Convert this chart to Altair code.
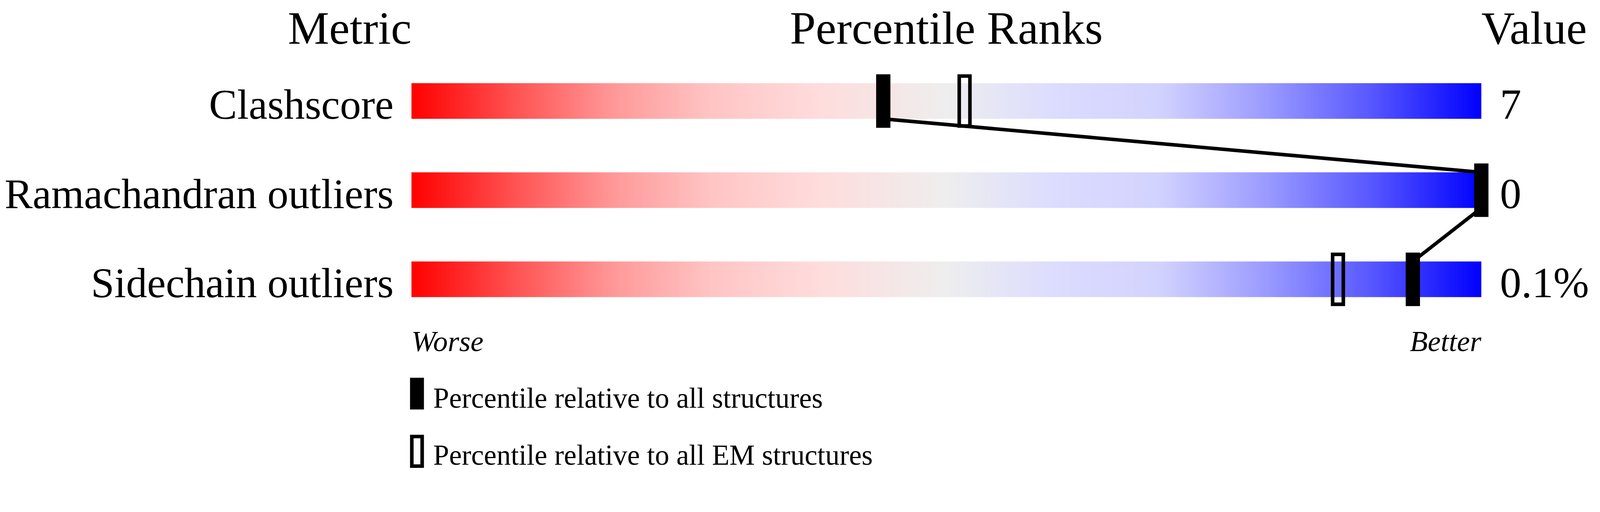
import altair as alt
import pandas as pd

# ---- data ----
metrics = ["Clashscore", "Ramachandran outliers", "Sidechain outliers"]
values = ["7", "0", "0.1%"]
pct_all = [44.1, 100.0, 93.6]          # percentile relative to all structures
pct_em = [51.7, None, 86.6]            # percentile relative to all EM structures
bar_start = [0, 0, 0]
bar_end = [100, 100, 100]
headers = ["Metric", "Percentile Ranks", "Value"]
header_pct = [0, 50, 100]
scale_ends = ["Worse", "Better"]
scale_end_pct = [0, 100]
legend_labels = ["Percentile relative to all structures",
                 "Percentile relative to all EM structures"]

# gradient colours along the slider (offset, colour)
grad_offsets = [0.0, 0.1, 0.19, 0.28, 0.38, 0.5, 0.6, 0.7, 0.8, 0.9, 1.0]
grad_colors = ["#ff0000", "#ff5555", "#ff9999", "#ffc4c4", "#ffdcdc", "#eeeeee",
               "#dcdcff", "#d2d2ff", "#9a9aff", "#5555ff", "#0000ff"]

# ---- layout ----
W, H = 4469, 1250
TOP = 71          # vertical offset between page coordinates and view coordinates
FONT = "Liberation Serif"
x_scale = alt.Scale(domain=[-1145 / 30, (W - 1145) / 30], nice=False, zero=False)
y_scale = alt.Scale(type="point", domain=metrics, range=[286 - TOP, 786 - TOP], padding=0)

bars_df = pd.DataFrame({"metric": metrics, "start": bar_start, "end": bar_end, "value": values})
all_df = pd.DataFrame({"metric": metrics, "pct": pct_all})
em_df = pd.DataFrame({"metric": [m for m, p in zip(metrics, pct_em) if p is not None],
                      "pct": [p for p in pct_em if p is not None]})
seg_df = pd.DataFrame({"m1": metrics[:-1], "m2": metrics[1:],
                       "p1": pct_all[:-1], "p2": pct_all[1:]})
head_df = pd.DataFrame({"text": headers, "pct": header_pct})
ends_df = pd.DataFrame({"text": scale_ends, "pct": scale_end_pct})

grad = alt.Gradient(
    gradient="linear",
    stops=[alt.GradientStop(color=c, offset=o) for o, c in zip(grad_offsets, grad_colors)],
    x1=0, x2=1, y1=0, y2=0,
)

X = lambda f: alt.X(f, scale=x_scale, axis=None)
Y = lambda f: alt.Y(f, scale=y_scale, axis=None)

bars = alt.Chart(bars_df).mark_bar(size=100, color=grad).encode(
    x=X("start:Q"), x2="end:Q", y=Y("metric:N"))

rules = alt.Chart(seg_df).mark_rule(color="black", strokeWidth=10, yOffset=50, y2Offset=-50).encode(
    x=X("p1:Q"), x2=alt.X2("p2"), y=Y("m1:N"), y2=alt.Y2("m2"))

ticks_all = alt.Chart(all_df).mark_tick(color="black", thickness=40, size=150, opacity=1).encode(
    x=X("pct:Q"), y=Y("metric:N"))

ticks_em = alt.Chart(em_df).mark_tick(filled=False, stroke="black", strokeWidth=10,
                                      thickness=30, size=140, opacity=1).encode(
    x=X("pct:Q"), y=Y("metric:N"))

labels = alt.Chart(bars_df).mark_text(align="right", baseline="alphabetic", dy=50,
                                      fontSize=118, font=FONT, color="black").encode(
    x=alt.value(1095), y=Y("metric:N"), text="metric:N")

vals = alt.Chart(bars_df).mark_text(align="left", baseline="alphabetic", dy=50,
                                    fontSize=120, font=FONT, color="black").encode(
    x=alt.value(4197), y=Y("metric:N"), text="value:N")

head_layers = []
for i, al in enumerate(["right", "center", "left"]):
    head_layers.append(
        alt.Chart(head_df.iloc[[i]]).mark_text(align=al, baseline="alphabetic", fontSize=130,
                                               font=FONT, color="black").encode(
            x=X("pct:Q"), y=alt.value(54), text="text:N"))

end_layers = []
for i, al in enumerate(["left", "right"]):
    end_layers.append(
        alt.Chart(ends_df.iloc[[i]]).mark_text(align=al, baseline="alphabetic", fontSize=82,
                                               fontStyle="italic", font=FONT, color="black").encode(
            x=X("pct:Q"), y=alt.value(987 - TOP), text="text:N"))

leg_df = pd.DataFrame({"text": legend_labels})
leg_box1 = alt.Chart(leg_df.iloc[[0]]).mark_rect(color="black").encode(
    x=alt.value(1141), x2=alt.value(1180), y=alt.value(1062 - TOP), y2=alt.value(1151 - TOP))
leg_box2 = alt.Chart(leg_df.iloc[[1]]).mark_rect(filled=False, stroke="black", strokeWidth=10).encode(
    x=alt.value(1146), x2=alt.value(1175), y=alt.value(1227 - TOP), y2=alt.value(1310 - TOP))
leg_t1 = alt.Chart(leg_df.iloc[[0]]).mark_text(align="left", baseline="alphabetic", fontSize=80,
                                               font=FONT, color="black").encode(
    x=alt.value(1206), y=alt.value(1146 - TOP), text="text:N")
leg_t2 = alt.Chart(leg_df.iloc[[1]]).mark_text(align="left", baseline="alphabetic", fontSize=80,
                                               font=FONT, color="black").encode(
    x=alt.value(1206), y=alt.value(1306 - TOP), text="text:N")

chart = alt.layer(
    bars, rules, ticks_all, ticks_em, labels, vals, *head_layers, *end_layers,
    leg_box1, leg_box2, leg_t1, leg_t2,
).properties(
    width=W, height=H, padding=0, background="white",
    autosize=alt.AutoSizeParams(type="none"),
).configure_view(stroke=None)

chart.save("out.html", embed_options={"renderer": "svg", "actions": False})
